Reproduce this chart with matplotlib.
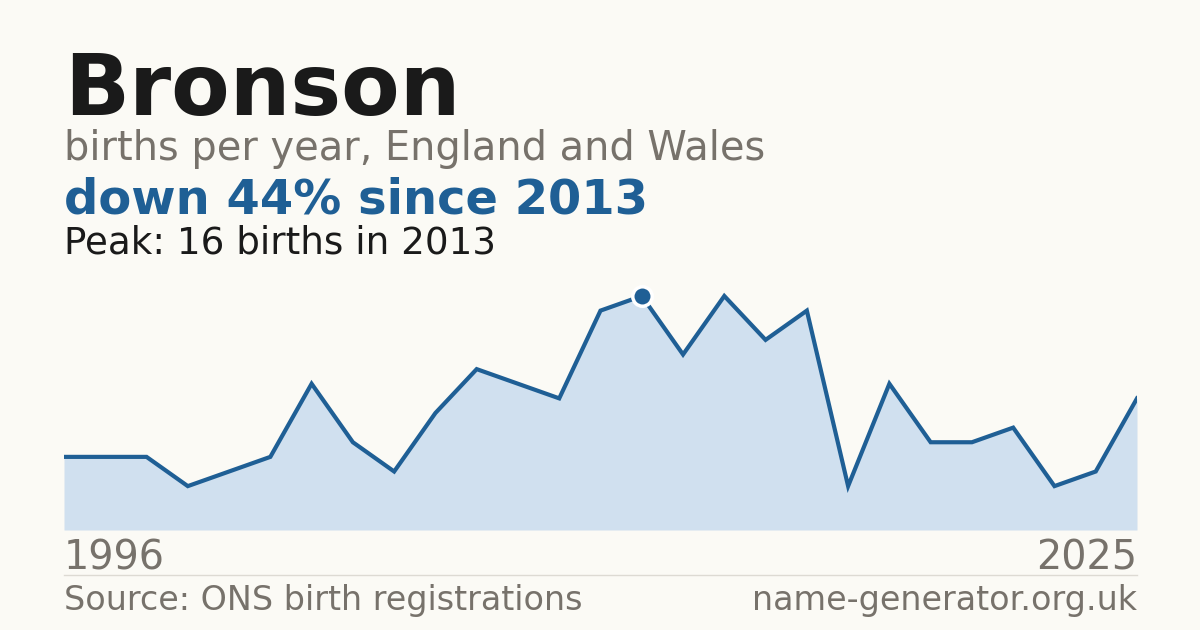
import matplotlib
matplotlib.use("Agg")
import matplotlib.pyplot as plt

# births per year (years with suppressed counts are left out)
years = [1996, 1997, 1998, 2000, 2001, 2002, 2003, 2004, 2005, 2007, 2008, 2009, 2011,
         2012, 2013, 2014, 2015, 2016, 2017, 2018, 2019, 2020, 2021, 2022, 2023, 2024, 2025]
births = [5, 5, 5, 3, 4, 5, 10, 6, 4, 8, 11, 10, 9,
          15, 16, 12, 16, 13, 15, 3, 10, 6, 6, 7, 3, 4, 9]

name = "Bronson"
peak_year = 2013
peak_val = max(births)

BG = "#fbfaf5"
BLUE = "#1f5f95"
GREY = "#77726b"
W, H = 1200, 630

fig = plt.figure(figsize=(12, 6.3), dpi=100, facecolor=BG)
ax = fig.add_axes([64 / W, 1 - 530 / H, 1073 / W, 250 / H])
ax.set_facecolor(BG)

xs = list(range(len(years)))
ax.fill_between(xs, births, 0, color="#d0e0ef", lw=0)
ax.plot(xs, births, color=BLUE, lw=3.0, solid_joinstyle="miter")
pi = years.index(peak_year)
ax.plot(xs[pi], births[pi], "o", ms=14, color=BLUE, mec="white", mew=2.5, zorder=5)

ax.set_xlim(0, len(years) - 1)
ax.set_ylim(0, peak_val * 250 / 234)
ax.axis("off")

def put(x, y, s, **kw):
    fig.text(x / W, 1 - y / H, s, va="baseline", **kw)

put(64, 115, name, fontsize=61.5, fontweight="bold", color="#1a1a1a")
put(64, 160, "births per year, England and Wales", fontsize=28.7, color=GREY)
drop = round((peak_val - births[-1]) / peak_val * 100)
put(64, 214, f"down {drop}% since {peak_year}", fontsize=34.6, fontweight="bold", color=BLUE)
put(64, 254, f"Peak: {peak_val} births in {peak_year}", fontsize=26.8, color="#1a1a1a")

put(64, 569, str(years[0]), fontsize=28.6, color=GREY)
put(1137, 569, str(years[-1]), fontsize=28.6, color=GREY, ha="right")

fig.add_artist(plt.Line2D([64 / W, 1137 / W], [1 - 575 / H, 1 - 575 / H], color="#dddad3", lw=1))

put(64, 610, "Source: ONS birth registrations", fontsize=24, color=GREY)
put(1137, 610, "name-generator.org.uk", fontsize=24, color=GREY, ha="right")

fig.savefig("out.png", dpi=100, facecolor=BG)
